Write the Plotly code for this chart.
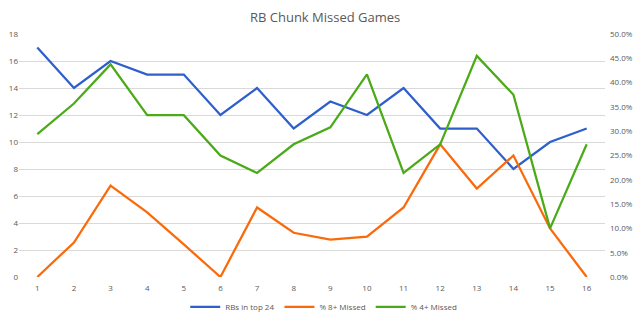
import plotly.graph_objects as go

weeks = list(range(1, 17))
rbs_top24 = [17, 14, 16, 15, 15, 12, 14, 11, 13, 12, 14, 11, 11, 8, 10, 11]
pct_8_missed = [0.0, 0.071, 0.188, 0.133, 0.067, 0.0, 0.143, 0.091, 0.077, 0.083,
                0.143, 0.273, 0.182, 0.250, 0.100, 0.0]
pct_4_missed = [0.294, 0.357, 0.4375, 0.333, 0.333, 0.250, 0.214, 0.273, 0.308, 0.417,
                0.214, 0.273, 0.455, 0.375, 0.100, 0.273]

left_ticks = list(range(0, 19, 2))
right_ticks = [i * 0.05 for i in range(11)]

BLUE = "#2E5FCB"
ORANGE = "#FA6A0A"
GREEN = "#4BAA18"
GRID = "#D9D9D9"
TEXT = "#595959"

fig = go.Figure()
fig.add_trace(go.Scatter(x=weeks, y=rbs_top24, name="RBs in top 24", mode="lines",
                         line=dict(color=BLUE, width=2.25)))
fig.add_trace(go.Scatter(x=weeks, y=pct_8_missed, name="% 8+ Missed", mode="lines",
                         line=dict(color=ORANGE, width=2.25), yaxis="y2"))
fig.add_trace(go.Scatter(x=weeks, y=pct_4_missed, name="% 4+ Missed", mode="lines",
                         line=dict(color=GREEN, width=2.25), yaxis="y2"))

fig.update_layout(
    width=640, height=322,
    margin=dict(l=19, r=35, t=34, b=45, autoexpand=False),
    paper_bgcolor="white", plot_bgcolor="white",
    font=dict(family="Open Sans, Liberation Sans, sans-serif", color=TEXT, size=8),
    title=dict(text="RB Chunk Missed Games", x=0.508, xanchor="center", y=0.945, yanchor="middle",
               font=dict(size=13, color=TEXT)),
    xaxis=dict(range=[0.5, 16.5], tickmode="array", tickvals=weeks, ticktext=[str(w) for w in weeks],
               showgrid=False, zeroline=False, showline=False, ticks="", ticklen=0,
               ticklabelstandoff=5, automargin=False, tickfont=dict(size=8, color=TEXT)),
    yaxis=dict(range=[0, 18], tickmode="array", tickvals=left_ticks, showgrid=True, gridcolor=GRID,
               gridwidth=1, zeroline=False, showline=False, ticks="", automargin=False,
               tickfont=dict(size=8, color=TEXT)),
    yaxis2=dict(range=[0, 0.5], tickmode="array", tickvals=right_ticks, tickformat=".1%",
                overlaying="y", side="right", showgrid=False, zeroline=False, showline=False,
                ticks="", automargin=False, ticklabelstandoff=4, tickfont=dict(size=8, color=TEXT)),
    legend=dict(orientation="h", x=0.52, xanchor="center", yref="container", y=0.047,
                yanchor="middle", font=dict(size=8, color=TEXT), itemwidth=30,
                bgcolor="rgba(0,0,0,0)"),
    showlegend=True,
)

fig.write_html("out.html")
